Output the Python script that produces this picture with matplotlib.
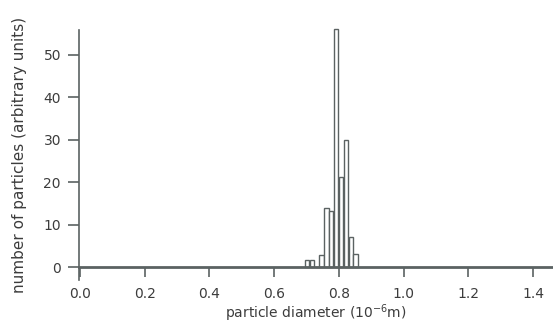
import matplotlib
matplotlib.use('Agg')
import matplotlib.pyplot as plt

# histogram bins (particle diameter, 10^-6 m) and counts
bin_left = [0.695, 0.710, 0.725, 0.740, 0.755, 0.770, 0.785, 0.800, 0.815, 0.830, 0.845]
counts = [1.6, 1.6, 0.0, 2.9, 14.0, 13.3, 56.0, 21.2, 30.0, 7.0, 3.0]
bin_width = 0.015

xticks = [0.0, 0.2, 0.4, 0.6, 0.8, 1.0, 1.2, 1.4]
yticks = [0, 10, 20, 30, 40, 50]

line_col = '#5b6262'
text_col = '#3c3c3c'

plt.rcParams['font.family'] = 'DejaVu Sans'
plt.rcParams['font.size'] = 10

fig = plt.figure(figsize=(5.53, 3.24), dpi=100)
ax = fig.add_axes([0.1429, 0.1358, 0.8571, 0.7716])

bars = ax.bar(bin_left, counts, width=bin_width * 0.88, align='edge',
              facecolor='white', edgecolor=line_col, linewidth=1.0, zorder=3)
for b in bars:
    b.set_clip_on(False)

ax.set_xlim(-0.003, 1.462)
ax.set_ylim(-3, 55.8)

for side in ['top', 'right']:
    ax.spines[side].set_visible(False)
ax.spines['bottom'].set_position(('data', 0))
ax.spines['bottom'].set_linewidth(2.0)
ax.spines['bottom'].set_color(line_col)
ax.spines['bottom'].set_zorder(4)
ax.spines['left'].set_linewidth(1.2)
ax.spines['left'].set_color(line_col)

ax.set_xticks(xticks)
ax.set_xticklabels(['%.1f' % v for v in xticks])
ax.set_yticks(yticks)
ax.tick_params(axis='x', direction='out', length=7, width=1.2, pad=7,
               colors=line_col, labelcolor=text_col)
ax.tick_params(axis='y', direction='out', length=8, width=1.2, pad=5,
               colors=line_col, labelcolor=text_col)

ax.set_xlabel('particle diameter (10$^{-6}$m)', color=text_col, fontsize=10, labelpad=1)
ax.set_ylabel('number of particles (arbitrary units)', color=text_col, fontsize=11, labelpad=12)

fig.savefig('out.png', dpi=100)
